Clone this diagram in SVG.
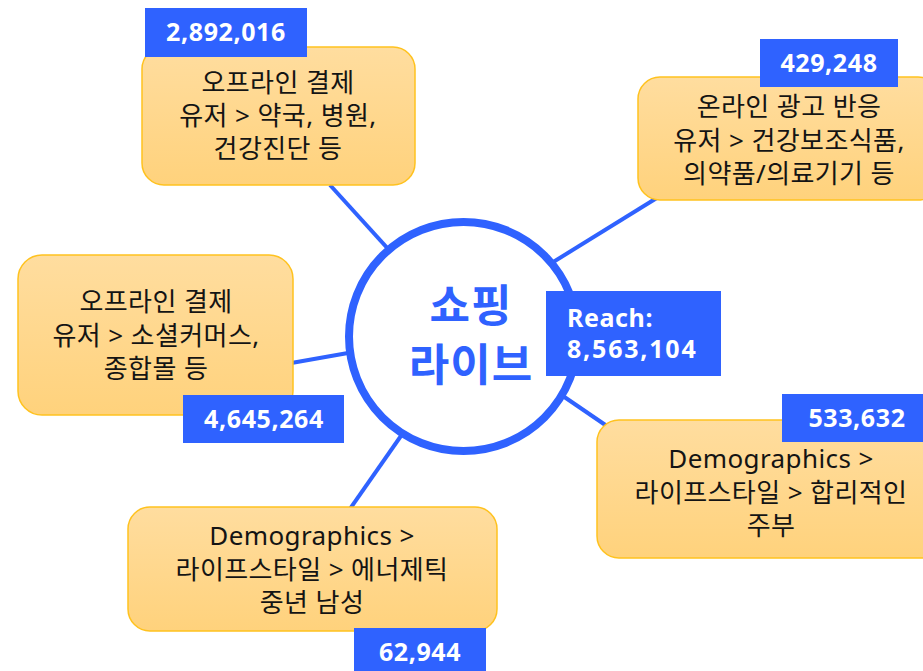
<svg xmlns="http://www.w3.org/2000/svg" width="923" height="671" viewBox="0 0 923 671">
  <defs>
    <linearGradient id="boxFill" x1="0" y1="0" x2="0" y2="1">
      <stop offset="0" stop-color="#FFDD9F"/>
      <stop offset="1" stop-color="#FFD27C"/>
    </linearGradient>
    <style>
      .box { fill: url(#boxFill); stroke: #FFC21F; stroke-width: 1.5; }
      .tag { fill: #2F62FF; }
      .txt { font-family: "Noto Sans", "Noto Sans CJK KR", sans-serif; font-size: 26px; letter-spacing: 0.4px; fill: #141414; text-anchor: middle; }
      .num { font-family: "Noto Sans", "Noto Sans CJK KR", sans-serif; font-size: 25px; font-weight: bold; letter-spacing: 0.6px; fill: #FFFFFF; text-anchor: middle; }
      .reach { text-anchor: start; }
      .wide { letter-spacing: 1.8px; }
      .link { stroke: #2F62FF; stroke-width: 4; fill: none; }
      .hub { fill: #FFFFFF; stroke: #2F62FF; stroke-width: 8; }
      .hubtxt { font-family: "Noto Sans CJK KR", sans-serif; font-size: 44px; font-weight: bold; letter-spacing: 1px; fill: #2F62FF; text-anchor: middle; }
    </style>
  </defs>
  <rect width="923" height="671" fill="#FFFFFF"/>

  <!-- spokes from the hub to each segment box -->
  <g id="connectors">
    <line class="link" x1="330" y1="185" x2="400" y2="262"/>
    <line class="link" x1="550" y1="264" x2="660" y2="196"/>
    <line class="link" x1="280" y1="365" x2="365" y2="350"/>
    <line class="link" x1="345" y1="516" x2="410" y2="423"/>
    <line class="link" x1="560" y1="394" x2="620" y2="435"/>
  </g>

  <g id="hub">
    <circle class="hub" cx="463.5" cy="336.5" r="114.5"/>
    <text class="hubtxt" x="471" y="322">쇼핑</text>
    <text class="hubtxt" x="471" y="381">라이브</text>
    <rect class="tag" x="546" y="291" width="175" height="85"/>
    <text class="num reach" x="567" y="327">Reach:</text>
    <text class="num reach wide" x="567" y="358">8,563,104</text>
  </g>

  <g id="offline-pharmacy">
    <rect class="box" x="142" y="47" width="273" height="138" rx="22"/>
    <text class="txt" x="278" y="92">오프라인 결제</text>
    <text class="txt" x="278" y="125">유저 &gt; 약국, 병원,</text>
    <text class="txt" x="278" y="158">건강진단 등</text>
    <rect class="tag" x="145" y="8" width="162" height="49"/>
    <text class="num" x="226" y="41">2,892,016</text>
  </g>

  <g id="online-ads">
    <rect class="box" x="638" y="77" width="302" height="123" rx="22"/>
    <text class="txt" x="789" y="116">온라인 광고 반응</text>
    <text class="txt" x="789" y="150">유저 &gt; 건강보조식품,</text>
    <text class="txt" x="789" y="183">의약품/의료기기 등</text>
    <rect class="tag" x="760" y="39" width="138" height="48"/>
    <text class="num" x="829" y="72">429,248</text>
  </g>

  <g id="offline-social">
    <rect class="box" x="18" y="255" width="275" height="160" rx="24"/>
    <text class="txt" x="156" y="311">오프라인 결제</text>
    <text class="txt" x="156" y="345">유저 &gt; 소셜커머스,</text>
    <text class="txt" x="156" y="378">종합몰 등</text>
    <rect class="tag" x="183" y="395" width="161" height="48"/>
    <text class="num" x="264" y="428">4,645,264</text>
  </g>

  <g id="energetic-men">
    <rect class="box" x="128" y="507" width="369" height="124" rx="22"/>
    <text class="txt" x="312" y="545">Demographics &gt;</text>
    <text class="txt" x="312" y="579">라이프스타일 &gt; 에너제틱</text>
    <text class="txt" x="312" y="612">중년 남성</text>
    <rect class="tag" x="354" y="628" width="132" height="50"/>
    <text class="num" x="420" y="661">62,944</text>
  </g>

  <g id="smart-homemaker">
    <rect class="box" x="597" y="420" width="348" height="138" rx="22"/>
    <text class="txt" x="771" y="468">Demographics &gt;</text>
    <text class="txt" x="771" y="502">라이프스타일 &gt; 합리적인</text>
    <text class="txt" x="771" y="535">주부</text>
    <rect class="tag" x="782" y="394" width="150" height="48"/>
    <text class="num" x="857" y="427">533,632</text>
  </g>
</svg>
